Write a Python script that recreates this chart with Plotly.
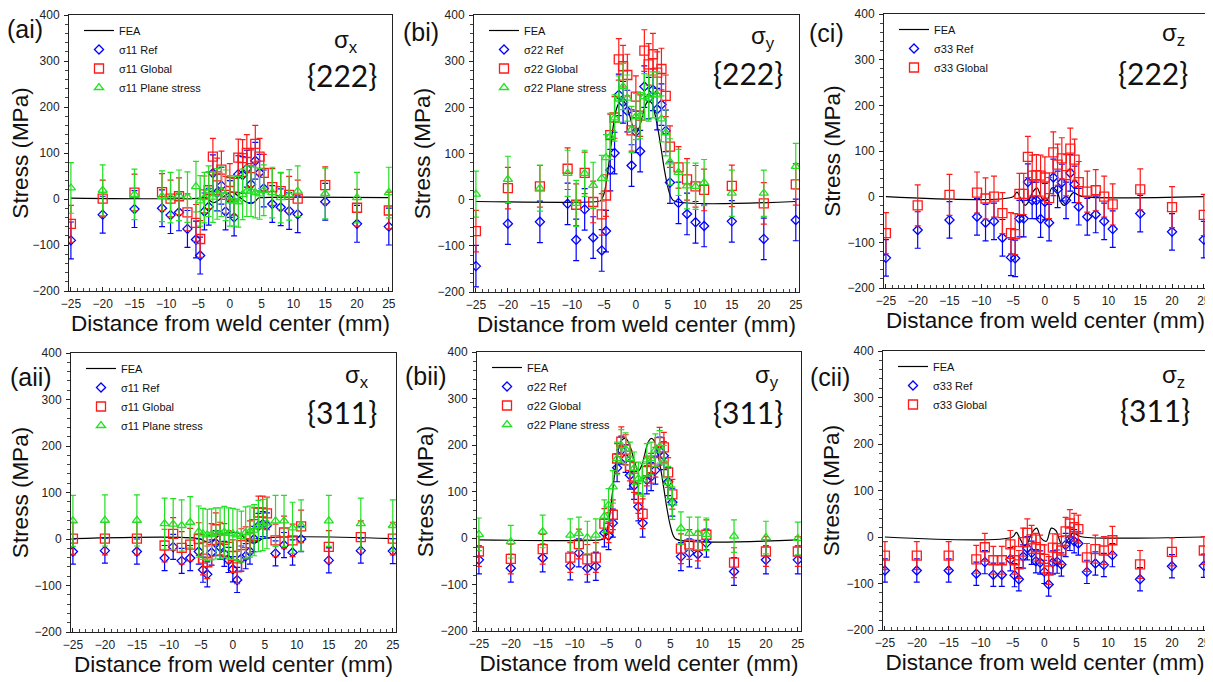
import plotly.graph_objects as go
from plotly.subplots import make_subplots

# page is 1213x682 but the body has an 8px margin, so shift everything by 8px
PAGE_W, PAGE_H = 1213, 682
OFF = 8
W, H = PAGE_W - OFF, PAGE_H - OFF

# measurement positions (mm from weld centre)
x_pos = [-25, -20, -15, -10.67, -9.33, -8, -6.67, -5.33, -4.67, -4, -3.33, -2.67, -2, -1.33, -0.67, 0,
         0.67, 1.33, 2, 2.67, 3.33, 4, 4.67, 5.33, 6.67, 8, 9.33, 10.67, 15, 20, 25]

# {222}
ai_ref = [-90, -34, -22, -20, -35, -29, -65, -88, -123, -27, -17, 56, 14, 29, -27, 0,
          -40, 54, 52, 66, 32, 83, 57, 23, -11, -18, -26, -33, -6, -54, -60]
ai_glob = [-54, 1, 14, 15, 1, 6, -29, -52, -87, 10, 19, 92, 49, 64, 9, 37,
           5, 90, 89, 100, 67, 120, 92, 57, 26, 17, 9, 1, 30, -19, -25]
ai_ps = [24, 19, 10, 6, 3, 8, 4, 27, -4, 3, 17, 4, 11, 17, 8, -4,
         -4, -6, 10, 17, 17, 14, 11, 19, 14, 3, 9, 17, 12, 3, 14]

bi_ref = [-144, -52, -48, -9, -87, -21, -82, -110, -68, 64, 101, 227, 211, 192, 74, 147,
          105, 245, 220, 238, 196, 206, 149, 37, -7, -31, -49, -57, -47, -85, -44]
bi_glob = [-68, 25, 29, 67, -11, 58, -5, -32, 9, 140, 178, 304, 289, 270, 150, 223,
           182, 323, 293, 315, 275, 283, 225, 115, 70, 44, 29, 21, 30, -8, 33]
bi_ps = [12, 44, 25, 57, -8, 57, 31, 46, 91, 137, 177, 218, 245, 220, 152, 180,
         182, 223, 220, 227, 227, 175, 145, 82, 59, 30, 29, 37, 14, 14, 72]

ci_ref = [-134, -73, -51, -44, -57, -54, -90, -133, -135, -48, -48, 32, -8, -8, -49, -11,
          -57, 42, 16, 31, -8, 52, 27, -22, -44, -39, -54, -71, -37, -77, -94]
ci_glob = [-80, -19, 4, 9, -4, 0, -36, -80, -82, 6, 6, 87, 46, 47, 46, 42,
           -3, 97, 70, 84, 47, 105, 81, 32, 11, 14, 0, -17, 16, -23, -40]

# {311}
aii_ref = [-27, -25, -27, -41, -17, -47, -41, -27, -66, -76, -29, -9, -17, -32, -45, -65,
           -88, -42, -37, -27, 0, 28, 32, 29, -31, -13, -29, 0, -46, -25, -26]
aii_glob = [1, 1, 1, -14, 11, -19, -12, 0, -42, -50, -2, 21, 1, -2, -17, -37,
            -61, -13, -9, 4, 32, 57, 57, 55, -3, 14, -3, 27, -17, 4, 1]
aii_ps = [39, 40, 40, 33, 32, 29, 36, 16, 11, 9, 10, 12, 12, 15, 12, 11,
          9, 5, 14, 16, 19, 28, 30, 34, 39, 39, 24, 29, 39, 33, 29]

bii_ref = [-47, -65, -43, -60, -32, -65, -61, 11, 5, 32, 151, 189, 171, 135, 113, 67,
           32, 125, 132, 146, 187, 177, 121, 77, -40, -32, -35, -11, -72, -47, -47]
bii_glob = [-29, -45, -24, -42, -13, -46, -42, 31, 22, 50, 171, 207, 190, 155, 130, 85,
            52, 144, 150, 163, 206, 195, 141, 94, -23, -14, -17, 7, -53, -29, -29]
bii_ps = [8, -8, 14, 6, 10, 1, 6, 47, 71, 110, 171, 198, 191, 171, 150, 128,
          125, 168, 171, 189, 196, 164, 119, 75, 21, 10, 10, 8, 4, 1, -1]

cii_ref = [-72, -72, -72, -79, -54, -81, -81, -48, -82, -91, -42, -24, -34, -52, -55, -75,
           -102, -55, -53, -59, -17, -4, -9, -14, -75, -57, -60, -39, -91, -63, -62]
cii_glob = [-40, -40, -40, -48, -22, -50, -50, -16, -50, -59, -11, 9, -5, -22, -26, -47,
            -72, -23, -24, -29, 12, 29, 21, 17, -44, -26, -29, -7, -59, -32, -29]

# error bar half-widths (MPa): Ref, Global, Plane stress
err = {
    "ai": (40, 40, 55), "bi": (45, 45, 50), "ci": (40, 45, 0),
    "aii": (27, 35, 55), "bii": (30, 32, 35), "cii": (25, 30, 0),
}

# FEA curves
fea_x_sx222 = [-25, -4.7, -4, -3.2, -2.5, -1.2, 0.3, 1.7, 2.5, 3.3, 4, 4.5, 5, 25]
fea_sx222 = [2, 2, 4, -3, -8, 3, 15, 2, -6, -10, -5, 2, 3, 3]
fea_x_sx311 = [-25, -5.3, -4.5, -3.7, -3, -2, -1, 0, 1, 2, 2.7, 3.3, 4, 4.8, 25]
fea_sx311 = [1, 1, -4, -7, -2, 9, 13, 14, 12, 0, -7, -9, -5, 1, 1]
fea_x_sy = [-25, -6, -5.5, -5, -4.5, -4, -3.5, -3, -2.5, -2, -1.5, -1, -0.5, 0, 0.5, 1, 1.5, 2,
            2.5, 3, 3.5, 4, 4.5, 5, 5.5, 6, 25]
fea_sy = [-4, -4, -2, 12, 48, 105, 162, 198, 212, 214, 205, 184, 159, 144, 155, 180, 205, 214,
          209, 184, 149, 106, 62, 27, 5, -3, -4]
fea_x_sz = [-25, -5, -4.4, -3.8, -3.1, -2.6, -2.2, -1.7, -1.2, -0.5, 0.3, 1.1, 1.8, 2.6, 3.1,
            3.6, 4.5, 5.2, 6, 25]
fea_sz = [0, 0, 10, -4, -19, -12, 2, 14, 19, -3, -9, 19, 14, -14, -19, -8, 9, 4, 0, 0]

# panel layout in page pixels: plot box x, plot box y, label centre, sigma centre, plane centre
panels = [
    ("ai", 1, 1, "(ai)", "x", "{222}", "11", fea_x_sx222, fea_sx222, [ai_ref, ai_glob, ai_ps],
     (69, 392), (15, 291), (25, 29), (346, 42), (342, 75)),
    ("bi", 1, 2, "(bi)", "y", "{222}", "22", fea_x_sy, fea_sy, [bi_ref, bi_glob, bi_ps],
     (474, 799), (15, 292), (421, 32), (763, 38), (748, 73)),
    ("ci", 1, 3, "(ci)", "z", "{222}", "33", fea_x_sz, fea_sz, [ci_ref, ci_glob],
     (884, 1207), (14, 288), (826, 33), (1173, 34), (1153, 73)),
    ("aii", 2, 1, "(aii)", "x", "{311}", "11", fea_x_sx311, fea_sx311, [aii_ref, aii_glob, aii_ps],
     (71, 396), (353, 632), (31, 377), (357, 376), (342, 412)),
    ("bii", 2, 2, "(bii)", "y", "{311}", "22", fea_x_sy, fea_sy, [bii_ref, bii_glob, bii_ps],
     (477, 801), (352, 631), (426, 376), (767, 376), (748, 412)),
    ("cii", 2, 3, "(cii)", "z", "{311}", "33", fea_x_sz, fea_sz, [cii_ref, cii_glob],
     (883, 1207), (351, 630), (830, 377), (1173, 376), (1155, 410)),
]

names = ["Ref", "Global", "Plane stress"]
colors = ["#0000ff", "#ff1a1a", "#22e022"]
symbols = ["diamond-open", "square-open", "triangle-up-open"]
sizes = [7, 9, 8]

FONT = "Arial, Liberation Sans, sans-serif"


def fx(xp):
    return (xp - OFF) / W


def fy(yp):
    return 1 - (yp - OFF) / H


fig = make_subplots(rows=2, cols=3)

for i, (key, r, c, lab, comp, plane, idx, fea_x, fea_y, series, dx, dy, lab_c, sig_c, pl_c) in enumerate(panels):
    leg = "legend" if i == 0 else "legend%d" % (i + 1)
    fig.add_trace(go.Scatter(x=fea_x, y=fea_y, mode="lines", name="FEA",
                             line=dict(color="black", width=1.2, shape="spline"), legend=leg), row=r, col=c)
    for j, ys in enumerate(series):
        fig.add_trace(go.Scatter(
            x=x_pos, y=ys, mode="markers", name="σ%s %s" % (idx, names[j]), legend=leg,
            marker=dict(symbol=symbols[j], size=sizes[j], color=colors[j], line=dict(width=1.3, color=colors[j])),
            error_y=dict(type="constant", value=err[key][j], color=colors[j], thickness=1.2, width=3),
        ), row=r, col=c)

    ax = "" if i == 0 else str(i + 1)
    fig.layout["xaxis" + ax].update(domain=[fx(dx[0]), fx(dx[1])])
    fig.layout["yaxis" + ax].update(domain=[fy(dy[1]), fy(dy[0])])
    fig.layout[leg] = dict(x=fx(dx[0] + 10), y=fy(dy[0] + 1), xanchor="left", yanchor="top",
                           bgcolor="rgba(0,0,0,0)", font=dict(size=11, family=FONT, color="#111"),
                           tracegroupgap=0, itemwidth=30)

    for (cx, cy), txt, fsize, fam in [(lab_c, lab, 25, FONT),
                                       (sig_c, "σ<sub>%s</sub>" % comp, 24, FONT),
                                       (pl_c, plane, 30, "Lato")]:
        fig.add_annotation(x=fx(cx), y=fy(cy), xref="paper", yref="paper", text=txt, showarrow=False,
                           xanchor="center", yanchor="middle", font=dict(size=fsize, family=fam, color="#111"))

fig.update_xaxes(range=[-25.3, 25.5], dtick=5, tick0=-25, ticks="inside", ticklen=4, tickcolor="#222",
                 minor=dict(dtick=1, ticks="inside", ticklen=3, tickcolor="#444"),
                 showline=True, mirror=True, linecolor="#222", linewidth=1, showgrid=False, zeroline=False,
                 tickfont=dict(size=12, family=FONT, color="#222"), ticklabelstandoff=2, automargin=False,
                 ticklabeloverflow="allow",
                 title=dict(text="Distance from weld center (mm)", font=dict(size=22.5, family=FONT, color="#111"),
                            standoff=0))
fig.update_yaxes(range=[-200, 400], dtick=100, ticks="outside", ticklen=4, tickcolor="#222",
                 minor=dict(dtick=20, ticks="outside", ticklen=3, tickcolor="#444"),
                 showline=True, mirror=True, linecolor="#222", linewidth=1, showgrid=False, zeroline=False,
                 tickfont=dict(size=12, family=FONT, color="#222"), ticklabelstandoff=2, automargin=False,
                 ticklabeloverflow="allow",
                 title=dict(text="Stress (MPa)", font=dict(size=22.5, family=FONT, color="#111"), standoff=0))

fig.update_layout(width=W, height=H, margin=dict(l=0, r=0, t=0, b=0), plot_bgcolor="white",
                  paper_bgcolor="white", font=dict(family=FONT))

fig.write_html("out.html")
